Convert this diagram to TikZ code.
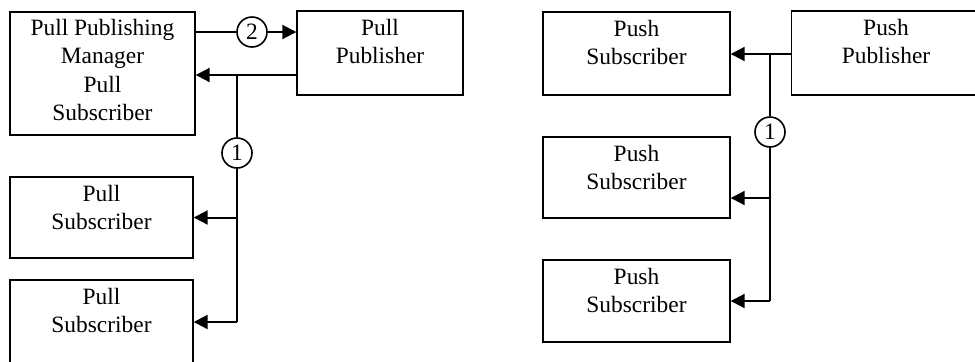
\documentclass[tikz,border=0pt]{standalone}
\usepackage{fontspec}
\setmainfont{Liberation Serif}
\usetikzlibrary{arrows.meta,positioning}

\begin{document}
\begin{tikzpicture}[x=0.5pt, y=-0.5pt, line width=1pt, >={Triangle[length=7pt,width=7pt]}]
   \useasboundingbox (0,0) rectangle (975,361);
   % boxes
   \begin{scope}[every node/.style={rectangle,draw,line width=0.7pt,inner sep=0pt}]
    \node (mgr) [minimum width=92.5pt, minimum height=61.5pt] at (102.5,73.5) {};
    \node (ppub) [minimum width=83pt, minimum height=42pt] at (380,53) {};
    \node (psub1) [minimum width=91.5pt, minimum height=40.5pt] at (101.5,217.5) {};
    \node (psub2) [minimum width=91.5pt, minimum height=42pt] at (101.5,322) {};
    \node (hsub1) [minimum width=93.5pt, minimum height=41.5pt] at (636.5,53.5) {};
    \node (hpub) [minimum width=94.5pt, minimum height=42pt] at (886,53) {};
    \node (hsub2) [minimum width=93.5pt, minimum height=40.5pt] at (636.5,177.5) {};
    \node (hsub3) [minimum width=93.5pt, minimum height=41pt] at (636.5,301) {};
   \end{scope}
   % box texts
   \begin{scope}[every node/.style={align=center,inner sep=0pt,font=\fontsize{11.7}{14.2}\selectfont}]
    \node (mgrtxt) [below=3.5pt of mgr.north] {Pull Publishing\\Manager\\Pull\\Subscriber};
    \node (ppubtxt) [below=4pt of ppub.north] {Pull\\Publisher};
    \node (psub1txt) [below=4pt of psub1.north] {Pull\\Subscriber};
    \node (psub2txt) [below=4pt of psub2.north] {Pull\\Subscriber};
    \node (hsub1txt) [below=4pt of hsub1.north] {Push\\Subscriber};
    \node (hpubtxt) [below=4pt of hpub.north] {Push\\Publisher};
    \node (hsub2txt) [below=4pt of hsub2.north] {Push\\Subscriber};
    \node (hsub3txt) [below=4pt of hsub3.north] {Push\\Subscriber};
   \end{scope}
   % step numbers
   \begin{scope}[every node/.style={circle,draw,line width=0.8pt,minimum size=15pt,inner sep=0pt,font=\fontsize{11.7}{14}\selectfont}]
    \node (n2) at (252,32) {2};
    \node (n1) at (237,153) {1};
    \node (m1) at (770,132) {1};
   \end{scope}
   \coordinate (j1) at (237,75);
   \coordinate (k1) at (770,54);
   \coordinate (k2) at (770,198);

   % pull side
   \draw (mgr.east |- n2) -- (n2);
   \draw [->] (n2) -- (ppub.west |- n2);
   \draw [->] (ppub.west |- j1) -- (mgr.east |- j1);
   \draw (j1) -- (n1);
   \draw (n1) -- (n1 |- psub2.east);
   \draw [->] (n1 |- psub1.east) -- (psub1.east);
   \draw [->] (n1 |- psub2.east) -- (psub2.east);

   % push side
   \draw [->] (hpub.west |- k1) -- (hsub1.east |- k1);
   \draw (k1) -- (m1);
   \draw (m1) -- (m1 |- hsub3.east);
   \draw [->] (k2) -- (hsub2.east |- k2);
   \draw [->] (m1 |- hsub3.east) -- (hsub3.east);
\end{tikzpicture}
\end{document}
